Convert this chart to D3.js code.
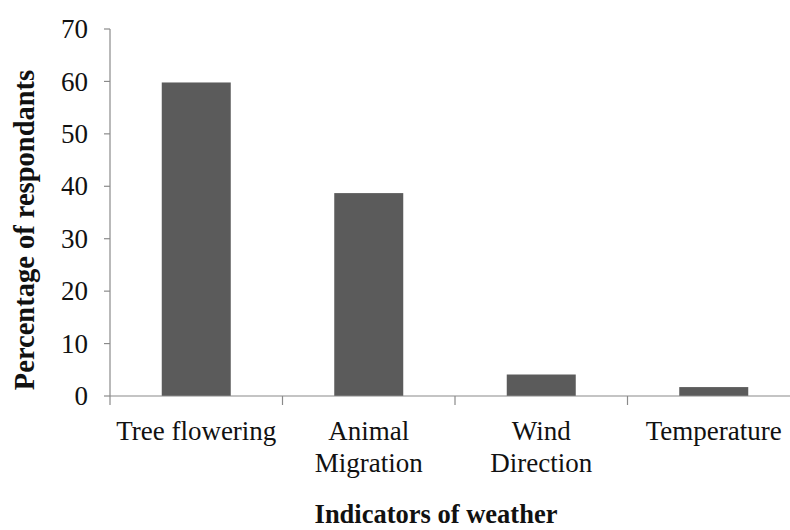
<!DOCTYPE html>
<html>
<head>
<meta charset="utf-8">
<script src="https://cdn.jsdelivr.net/npm/d3@7"></script>
<style>
  body { margin: 0; background: #fff; }
  svg text { font-family: "Liberation Serif", "Times New Roman", serif; fill: #111; }
</style>
</head>
<body>
<div id="chart"></div>
<script>
/* Data */
var categories = ["Tree flowering", "Animal Migration", "Wind Direction", "Temperature"];
var catLines = [["Tree flowering"], ["Animal", "Migration"], ["Wind", "Direction"], ["Temperature"]];
var values = [59.8, 38.7, 4.1, 1.7];
var yTicks = [0, 10, 20, 30, 40, 50, 60, 70];

var width = 790,
    height = 530;

var svg = d3.select("#chart").append("svg")
    .attr("width", width)
    .attr("height", height);

var x0 = 110, x1 = 800, yTop = 29, yBase = 396;

var x = d3.scaleBand().domain(categories).range([x0, x1]).padding(0);
var y = d3.scaleLinear().domain([0, 70]).range([yBase, yTop]);

var bw = x.bandwidth();

// bars
svg.append("g").selectAll("rect")
    .data(values)
    .enter().append("rect")
    .attr("x", function(d, i) { return x(categories[i]) + bw * 0.3; })
    .attr("width", bw * 0.4)
    .attr("y", function(d) { return y(d); })
    .attr("height", function(d) { return yBase - y(d); })
    .style("fill", "#5b5b5b");

/* ------- AXES ------- */
var axisCol = "#8a8a8a";

// y axis
svg.append("line")
    .attr("x1", x0).attr("x2", x0)
    .attr("y1", yTop).attr("y2", yBase)
    .style("stroke", axisCol).style("stroke-width", 1.2);

var yt = svg.append("g").selectAll("g")
    .data(yTicks)
    .enter().append("g");
yt.append("line")
    .attr("x1", x0 - 6).attr("x2", x0)
    .attr("y1", function(d) { return y(d); })
    .attr("y2", function(d) { return y(d); })
    .style("stroke", axisCol).style("stroke-width", 1.2);
yt.append("text")
    .attr("x", 88)
    .attr("y", function(d) { return y(d); })
    .attr("dy", "0.34em")
    .attr("text-anchor", "end")
    .style("font-size", "27px")
    .text(function(d) { return d; });

// x axis
svg.append("line")
    .attr("x1", x0).attr("x2", x1)
    .attr("y1", yBase).attr("y2", yBase)
    .style("stroke", axisCol).style("stroke-width", 1.2);

var bounds = categories.map(function(c) { return x(c); }).concat([x1]);
svg.append("g").selectAll("line")
    .data(bounds)
    .enter().append("line")
    .attr("x1", function(d) { return d; })
    .attr("x2", function(d) { return d; })
    .attr("y1", yBase).attr("y2", yBase + 9)
    .style("stroke", axisCol).style("stroke-width", 1.2);

var lbl = svg.append("g").selectAll("text")
    .data(categories)
    .enter().append("text")
    .attr("text-anchor", "middle")
    .style("font-size", "27px")
    .attr("transform", function(c) { return "translate(" + (x(c) + bw / 2) + ",440)"; });
lbl.each(function(c, i) {
    var t = d3.select(this);
    catLines[i].forEach(function(line, j) {
        t.append("tspan").attr("x", 0).attr("y", j * 32).text(line);
    });
});

// axis titles
svg.append("text")
    .attr("transform", "translate(34,230) rotate(-90)")
    .attr("text-anchor", "middle")
    .style("font-size", "28.5px")
    .style("font-weight", "bold")
    .text("Percentage of respondants");

svg.append("text")
    .attr("x", 436)
    .attr("y", 523)
    .attr("text-anchor", "middle")
    .style("font-size", "26.5px")
    .style("font-weight", "bold")
    .text("Indicators of weather");
</script>
</body>
</html>
